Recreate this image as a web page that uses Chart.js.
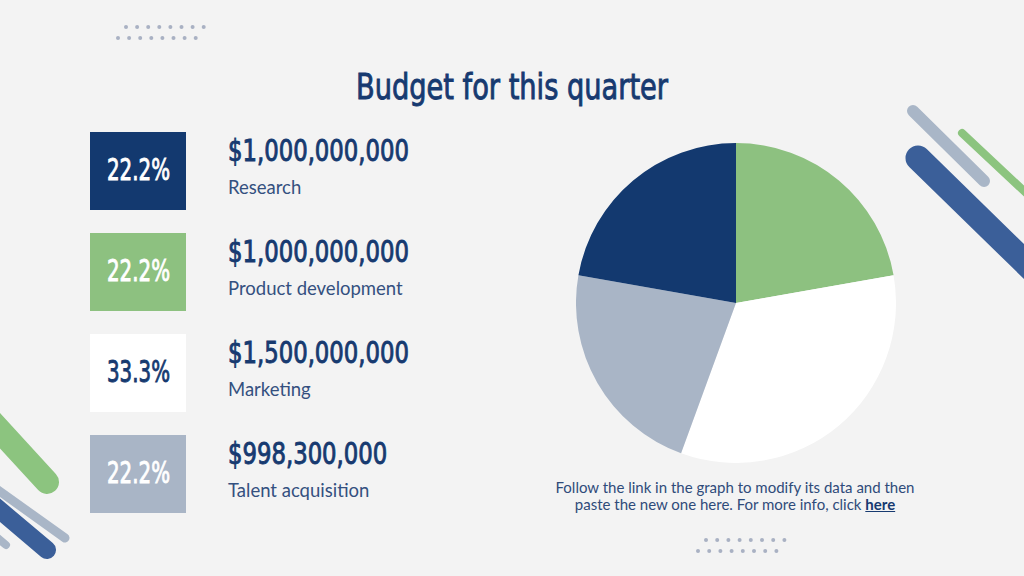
<!DOCTYPE html>
<html>
<head>
<meta charset="utf-8">
<script src="https://cdn.jsdelivr.net/npm/chart.js@4"></script>
<style>
  html, body { margin:0; padding:0; }
  body { width:1024px; height:576px; background:#f3f3f3; position:relative; overflow:hidden; font-family: Lato, "Open Sans", sans-serif; }
  .cond { font-family: "Liberation Sans Narrow", "DejaVu Sans Condensed", "Liberation Sans", sans-serif; font-weight:normal; -webkit-text-stroke:0.9px currentColor; white-space:nowrap; position:absolute; line-height:1; display:inline-block; transform-origin:0 0; }
  .lbl { position:absolute; white-space:nowrap; line-height:1; color:#34507f; font-size:18.5px; }
  .box { position:absolute; left:90px; width:96px; height:78px; }
  #deco { position:absolute; left:0; top:0; }
  #pieWrap { position:absolute; left:576px; top:143px; width:320px; height:320px; }
  #note { position:absolute; left:485px; width:500px; text-align:center; font-size:15px; color:#2f4b7a; line-height:17px; top:479px; white-space:nowrap; }
  #note b { color:#173a70; text-decoration:underline; }
</style>
</head>
<body>
<svg id="deco" width="1024" height="576">
  <g stroke-linecap="round" fill="none">
    <line x1="913" y1="111" x2="984" y2="181" stroke="#a9b6c7" stroke-width="12"/>
    <line x1="962" y1="133" x2="1040" y2="206" stroke="#8cc47f" stroke-width="8"/>
    <line x1="918" y1="158" x2="1045" y2="282" stroke="#3b5f99" stroke-width="25"/>
    <line x1="-30" y1="398" x2="47" y2="482" stroke="#8cc47f" stroke-width="24"/>
    <line x1="-30" y1="470" x2="65" y2="538" stroke="#a9b6c7" stroke-width="9"/>
    <line x1="-30" y1="485" x2="47" y2="550" stroke="#3b5f99" stroke-width="18"/>
    <line x1="-30" y1="515" x2="6" y2="545" stroke="#a9b6c7" stroke-width="8"/>
  </g>
  <g id="dots" fill="#a9b1c3"></g>
</svg>

<div id="title" class="cond" style="color:#173a70;font-size:36px;">Budget for this quarter</div>
<div id="legend"></div>
<div id="pieWrap"><canvas id="pie" width="320" height="320"></canvas></div>
<div id="note">Follow the link in the graph to modify its data and then<br>paste the new one here. For more info, click <b>here</b></div>

<script>
const categories = ['Research', 'Product development', 'Marketing', 'Talent acquisition'];
const amounts = [1000000000, 1000000000, 1500000000, 998300000];
const colors = ['#13396f', '#8dc180', '#ffffff', '#a9b5c6'];
const percentColors = ['#ffffff', '#ffffff', '#173a70', '#ffffff'];
const pieOrder = [1, 2, 3, 0];

// dots decoration
const dotsG = document.getElementById('dots');
function dotRow(x0, y, n, step) {
  for (let i = 0; i < n; i++) {
    const c = document.createElementNS('http://www.w3.org/2000/svg', 'circle');
    c.setAttribute('cx', x0 + i * step); c.setAttribute('cy', y); c.setAttribute('r', 2);
    dotsG.appendChild(c);
  }
}
dotRow(126, 27, 8, 11.1); dotRow(118, 38, 8, 11.1);
dotRow(706, 540, 8, 11.2); dotRow(698, 551, 8, 11.2);

function fit(el, w) {
  const r = el.getBoundingClientRect().width;
  const s = w / r;
  el.style.transform = 'scaleX(' + s + ')';
  return s;
}
const BASE = 0.8465;

// title
const title = document.getElementById('title');
title.style.left = '356px';
title.style.top = (99 - BASE * 36) + 'px';
fit(title, 312);

// legend
const total = amounts.reduce((a, b) => a + b, 0);
const legend = document.getElementById('legend');
let amtScale = null, pctScale = null;
categories.forEach((cat, i) => {
  const top = 132 + i * 101;
  const box = document.createElement('div');
  box.className = 'box';
  box.style.top = top + 'px';
  box.style.background = colors[i];
  legend.appendChild(box);

  const pct = document.createElement('div');
  pct.className = 'cond';
  pct.style.fontSize = '31px';
  pct.style.color = percentColors[i];
  pct.textContent = (amounts[i] / total * 100).toFixed(1) + '%';
  pct.style.top = (top + 48 - BASE * 31) + 'px';
  legend.appendChild(pct);
  const w0 = pct.getBoundingClientRect().width;
  if (pctScale === null) pctScale = 63 / w0;
  pct.style.transform = 'scaleX(' + pctScale + ')';
  pct.style.left = (138 - w0 * pctScale / 2) + 'px';

  const amt = document.createElement('div');
  amt.className = 'cond';
  amt.style.fontSize = '30px';
  amt.style.color = '#173a70';
  amt.textContent = '$' + amounts[i].toLocaleString('en-US');
  amt.style.left = '228px';
  amt.style.top = (161 + i * 101 - BASE * 30) + 'px';
  legend.appendChild(amt);
  if (amtScale === null) amtScale = fit(amt, 181);
  else amt.style.transform = 'scaleX(' + amtScale + ')';

  const lbl = document.createElement('div');
  lbl.className = 'lbl';
  lbl.textContent = cat;
  lbl.style.left = '228px';
  lbl.style.top = (194 + i * 101 - 0.887 * 18.5) + 'px';
  legend.appendChild(lbl);
});

new Chart(document.getElementById('pie'), {
  type: 'pie',
  data: {
    labels: pieOrder.map(i => categories[i]),
    datasets: [{
      data: pieOrder.map(i => amounts[i]),
      backgroundColor: pieOrder.map(i => colors[i]),
      borderWidth: 0
    }]
  },
  options: {
    responsive: false,
    animation: false,
    layout: { padding: 0 },
    plugins: { legend: { display: false }, tooltip: { enabled: false } }
  }
});
</script>
</body>
</html>
